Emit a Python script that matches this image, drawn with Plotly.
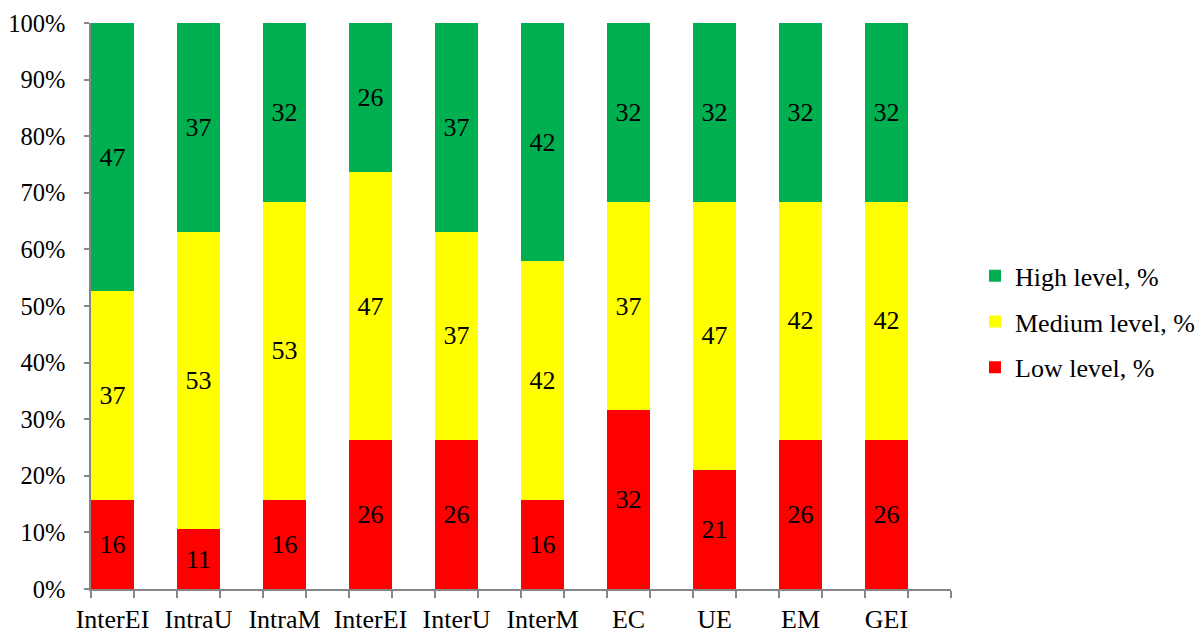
import plotly.graph_objects as go

categories = ["InterEI", "IntraU", "IntraM", "InterEI", "InterU", "InterM", "EC", "UE", "EM", "GEI"]
low = [15.79, 10.53, 15.79, 26.32, 26.32, 15.79, 31.58, 21.05, 26.32, 26.32]
medium = [36.84, 52.63, 52.63, 47.37, 36.84, 42.11, 36.84, 47.37, 42.11, 42.11]
high = [47.37, 36.84, 31.58, 26.32, 36.84, 42.11, 31.58, 31.58, 31.58, 31.58]
series_names = ["Low level, %", "Medium level, %", "High level, %"]
colors = ["#FF0000", "#FFFF00", "#00B050"]
legend_ranks = [3, 2, 1]
y_ticks = list(range(0, 101, 10))

FONT = "Liberation Serif"
FS = 26
x = list(range(len(categories)))

fig = go.Figure()
for name, vals, col, rank in zip(series_names, [low, medium, high], colors, legend_ranks):
    fig.add_trace(go.Bar(
        x=x, y=vals, name=name, width=0.5,
        marker=dict(color=col, line=dict(width=0)),
        text=[str(int(v + 0.5)) for v in vals],
        textposition="inside", insidetextanchor="middle", textangle=0,
        constraintext="none",
        textfont=dict(family=FONT, size=FS, color="black"),
        legendgroup=name, legendrank=rank,
    ))

# page body adds an 8px offset around the figure
fig.update_layout(
    barmode="stack", barnorm="percent",
    width=1220, height=632,
    margin=dict(l=83, r=277, t=15, b=51),
    plot_bgcolor="white", paper_bgcolor="white",
    font=dict(family=FONT, size=FS, color="black"),
    showlegend=True,
    legend=dict(
        traceorder="grouped", x=1.0279, xanchor="left", y=0.472, yanchor="middle",
        font=dict(family=FONT, size=FS, color="black"),
        tracegroupgap=9, bgcolor="rgba(0,0,0,0)",
    ),
    xaxis=dict(
        range=[-0.25, len(categories) - 0.25],
        tickmode="array", tickvals=x, ticktext=categories,
        ticks="", showline=True, linecolor="#868686", linewidth=1.5,
        showgrid=False, zeroline=False, automargin=False,
        ticklabelstandoff=6,
        tickfont=dict(family=FONT, size=FS, color="black"),
        minor=dict(ticks="outside", tick0=-0.25, dtick=0.5, ticklen=7,
                   tickcolor="#868686", tickwidth=1.5, showgrid=False),
    ),
    yaxis=dict(
        range=[0, 100], tickmode="array", tickvals=y_ticks,
        ticktext=[f"{v}%" for v in y_ticks],
        ticks="outside", ticklen=5, tickcolor="#868686", tickwidth=1.5,
        showline=True, linecolor="#868686", linewidth=1.5,
        showgrid=False, zeroline=False, ticklabelstandoff=14, automargin=False,
        tickfont=dict(family=FONT, size=24.5, color="black"),
    ),
)

fig.write_html("out.html")
